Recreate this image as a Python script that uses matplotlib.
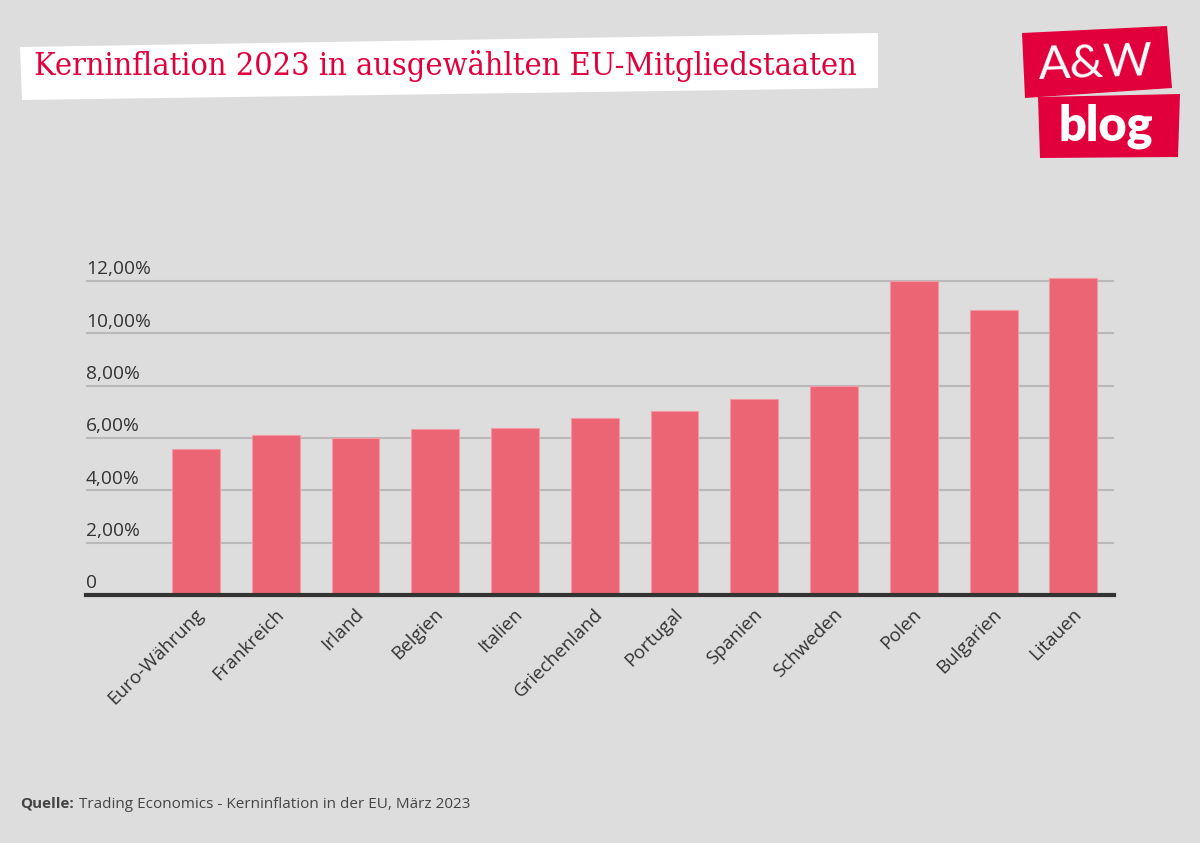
import matplotlib.pyplot as plt
from matplotlib.patches import Polygon
from matplotlib.transforms import ScaledTranslation

# data
countries = ["Euro-Währung", "Frankreich", "Irland", "Belgien", "Italien",
             "Griechenland", "Portugal", "Spanien", "Schweden", "Polen",
             "Bulgarien", "Litauen"]
core_inflation = [5.6, 6.1, 6.0, 6.35, 6.4, 6.75, 7.05, 7.5, 8.0, 12.0, 10.9, 12.1]
y_ticks = [0, 2, 4, 6, 8, 10, 12]
y_tick_labels = ["0", "2,00%", "4,00%", "6,00%", "8,00%", "10,00%", "12,00%"]

W, H = 1200, 843
BG = "#dddddd"
RED = "#e2003c"
BAR = "#ec6574"
TXT = "#333333"

fig = plt.figure(figsize=(W / 100, H / 100), dpi=100, facecolor=BG)


def px(x, y):
    # pixel coords (from top-left) -> figure fraction
    return (x / W, 1 - y / H)


# title box (slightly tilted white card)
fig.patches.append(Polygon([px(20, 47), px(878, 33), px(878, 88), px(22, 100)],
                           closed=True, transform=fig.transFigure,
                           facecolor="white", edgecolor="none"))
fig.text(*px(34, 66), "Kerninflation 2023 in ausgewählten EU-Mitgliedstaaten",
         color=RED, fontsize=23.2, family="DejaVu Serif", fontstretch="condensed",
         ha="left", va="center")

# logo
fig.patches.append(Polygon([px(1022, 33), px(1167, 26), px(1172, 88), px(1025, 98)],
                           closed=True, transform=fig.transFigure,
                           facecolor=RED, edgecolor="none"))
fig.patches.append(Polygon([px(1038, 97), px(1180, 94), px(1178, 157), px(1040, 158)],
                           closed=True, transform=fig.transFigure,
                           facecolor=RED, edgecolor="none"))
fig.text(*px(1096, 64), "A&W", color="white", fontsize=34, family="Lato",
         ha="center", va="center", rotation=2)
fig.text(*px(1106, 126), "blog", color="white", fontsize=35, family="Lato",
         weight="heavy", ha="center", va="center")

# chart
ax = fig.add_axes([86 / W, (H - 595) / H, 1028 / W, 327 / H])
ax.set_facecolor(BG)
x = list(range(len(countries)))
ax.bar(x, core_inflation, width=0.6, color=BAR, edgecolor="#f19aa4",
       linewidth=0.8, zorder=3)
ax.set_xlim(-1.38, 11.51)
ax.set_ylim(0, 12.5)

ax.set_yticks(y_ticks)
ax.set_yticklabels([])
ax.tick_params(axis="y", length=0)
ax.grid(axis="y", color="#b9b9b9", linewidth=1.5, zorder=0)
for v, lab in zip(y_ticks, y_tick_labels):
    ax.text(0, v + 0.1, lab, transform=ax.get_yaxis_transform(),
            ha="left", va="bottom", fontsize=13.8, color=TXT, family="Open Sans")

ax.set_xticks(x)
ax.set_xticklabels(countries, rotation=45, ha="right", va="center",
                   rotation_mode="anchor", fontsize=13.5, color=TXT,
                   family="Open Sans")
ax.tick_params(axis="x", length=0, pad=12)
shift = ScaledTranslation(5 / 100, 0, fig.dpi_scale_trans)
for lab in ax.get_xticklabels():
    lab.set_transform(lab.get_transform() + shift)

for s in ["top", "right", "left"]:
    ax.spines[s].set_visible(False)
ax.spines["bottom"].set_color("#333333")
ax.spines["bottom"].set_linewidth(3)
ax.spines["bottom"].set_zorder(4)

# source line
src_bold = fig.text(*px(20, 804), "Quelle:", fontsize=11.0, weight="bold",
                    color="#444444", family="Open Sans", ha="left", va="center")
fig.canvas.draw()
bb = src_bold.get_window_extent()
fig.text((bb.x1 + 5) / W, 1 - 804 / H,
         "Trading Economics - Kerninflation in der EU, März 2023",
         fontsize=11.0, color="#444444", family="Open Sans", ha="left", va="center")

fig.savefig("out.png", dpi=100, facecolor=BG)
